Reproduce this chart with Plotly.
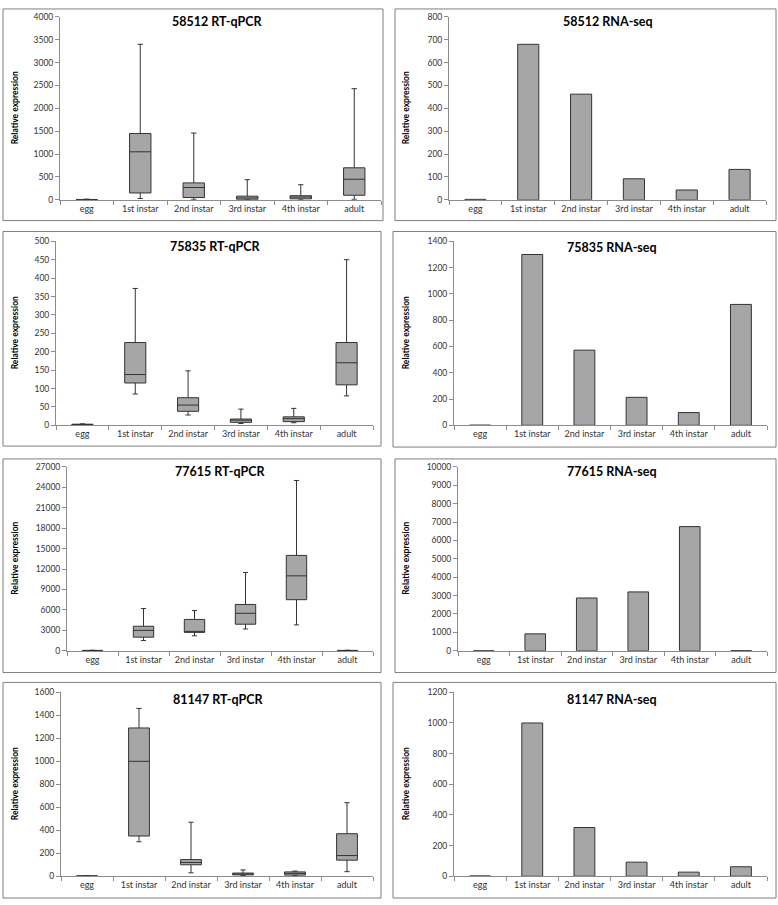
import plotly.graph_objects as go

W, H = 778, 905

stages = ["egg", "1st instar", "2nd instar", "3rd instar", "4th instar", "adult"]

# RT-qPCR box statistics (lower whisker, q1, median, q3, upper whisker)
g58512_low = [0, 30, 10, 0, 0, 10]
g58512_q1 = [2, 150, 50, 10, 20, 100]
g58512_med = [5, 1050, 270, 40, 60, 450]
g58512_q3 = [8, 1450, 370, 80, 90, 700]
g58512_high = [15, 3400, 1460, 440, 330, 2430]

g75835_low = [0, 85, 28, 5, 7, 80]
g75835_q1 = [1, 115, 38, 8, 10, 110]
g75835_med = [2, 138, 55, 14, 18, 170]
g75835_q3 = [3, 225, 75, 17, 23, 225]
g75835_high = [4, 372, 148, 44, 46, 450]

g77615_low = [0, 1500, 2200, 3200, 3800, 0]
g77615_q1 = [20, 2000, 2700, 3900, 7500, 20]
g77615_med = [40, 3000, 2800, 5500, 11000, 40]
g77615_q3 = [60, 3600, 4600, 6800, 14000, 60]
g77615_high = [80, 6200, 5900, 11500, 25000, 80]

g81147_low = [0, 300, 30, 5, 5, 40]
g81147_q1 = [1, 350, 100, 12, 10, 140]
g81147_med = [2, 1000, 120, 20, 25, 180]
g81147_q3 = [3, 1290, 145, 28, 38, 370]
g81147_high = [4, 1460, 470, 55, 45, 640]

# RNA-seq values
rna_58512 = [2, 680, 462, 92, 43, 133]
rna_75835 = [1, 1300, 572, 213, 97, 920]
rna_77615 = [5, 920, 2870, 3200, 6750, 10]
rna_81147 = [2, 1000, 318, 92, 27, 62]

qpcr_titles = ["58512 RT-qPCR", "75835 RT-qPCR", "77615 RT-qPCR", "81147 RT-qPCR"]
rna_titles = ["58512 RNA-seq", "75835 RNA-seq", "77615 RNA-seq", "81147 RNA-seq"]
qpcr_ymax = [4000, 500, 27000, 1600]
qpcr_dtick = [500, 50, 3000, 200]
rna_ymax = [800, 1400, 10000, 1200]
rna_dtick = [100, 200, 1000, 200]

qpcr_stats = [
    (g58512_low, g58512_q1, g58512_med, g58512_q3, g58512_high),
    (g75835_low, g75835_q1, g75835_med, g75835_q3, g75835_high),
    (g77615_low, g77615_q1, g77615_med, g77615_q3, g77615_high),
    (g81147_low, g81147_q1, g81147_med, g81147_q3, g81147_high),
]
rna_vals = [rna_58512, rna_75835, rna_77615, rna_81147]

# layout geometry in pixels: plot area (x0, x1, ytop, ybot), frame (x0, x1, y0, y1), title (cx, cy)
left_plot = [(60, 381, 12, 197), (56, 373, 239, 425), (67, 373, 467, 653), (61, 373, 695, 881)]
right_plot = [(449, 766, 12, 197), (454, 767, 239, 425), (458, 767, 467, 653), (454, 767, 695, 881)]
left_frame = [(3, 383, 4, 218), (3, 381, 229, 446), (3, 381, 459, 675), (3, 381, 685, 903)]
right_frame = [(395, 776, 4, 218), (393, 776, 229, 447), (395, 776, 459, 675), (393, 776, 685, 903)]
left_title = [(217, 17), (215, 244), (220, 472), (218, 702)]
right_title = [(608, 17), (612, 245), (612, 472), (612, 702)]

FONT = "Lato"
FILL = "#a6a6a6"
EDGE = "#333333"
AXC = "#8c8c8c"
TXT = "#333333"

fig = go.Figure()
layout = {}
shapes = []
annotations = []


def px_x(v):
    return v / W


def px_y(v):
    return 1 - v / H


def add_axes(idx, plot, ymax, dtick):
    x0, x1, yt, yb = plot
    sfx = "" if idx == 1 else str(idx)
    layout["xaxis" + sfx] = dict(
        domain=[px_x(x0), px_x(x1)], anchor="y" + sfx,
        type="category", categoryorder="array", categoryarray=stages,
        range=[-0.5, 5.5], showline=True, linecolor=AXC, linewidth=1,
        ticks="outside", tickson="boundaries", ticklen=4, tickcolor=AXC,
        showgrid=False, zeroline=False,
        tickfont=dict(family=FONT, size=9, color=TXT),
    )
    layout["yaxis" + sfx] = dict(
        domain=[px_y(yb), px_y(yt)], anchor="x" + sfx,
        range=[0, ymax], dtick=dtick, tick0=0, tickformat="d",
        showline=True, linecolor=AXC,
        linewidth=1, ticks="outside", ticklen=4, tickcolor=AXC,
        showgrid=False, zeroline=False,
        tickfont=dict(family=FONT, size=8.5, color=TXT),
    )


idx = 0
for r in range(4):
    # left: RT-qPCR box plot
    idx += 1
    sfx = "" if idx == 1 else str(idx)
    add_axes(idx, left_plot[r], qpcr_ymax[r], qpcr_dtick[r])
    lo, q1, med, q3, hi = qpcr_stats[r]
    fig.add_trace(go.Box(
        x=stages, q1=q1, median=med, q3=q3, lowerfence=lo, upperfence=hi,
        fillcolor=FILL, line=dict(color=EDGE, width=1), width=0.4,
        whiskerwidth=0.25, boxpoints=False, showlegend=False,
        xaxis="x" + sfx, yaxis="y" + sfx,
    ))
    # right: RNA-seq bar chart
    idx += 1
    add_axes(idx, right_plot[r], rna_ymax[r], rna_dtick[r])
    fig.add_trace(go.Bar(
        x=stages, y=rna_vals[r], width=0.4,
        marker=dict(color=FILL, line=dict(color=EDGE, width=1)),
        showlegend=False,
        xaxis=f"x{idx}", yaxis=f"y{idx}",
    ))

    for frame in (left_frame[r], right_frame[r]):
        fx0, fx1, fy0, fy1 = frame
        shapes.append(dict(type="rect", xref="paper", yref="paper",
                           x0=px_x(fx0), x1=px_x(fx1), y0=px_y(fy1), y1=px_y(fy0),
                           line=dict(color="#7f7f7f", width=1), fillcolor="rgba(0,0,0,0)"))
    for (tx, ty), txt in ((left_title[r], qpcr_titles[r]), (right_title[r], rna_titles[r])):
        annotations.append(dict(text=f"<b>{txt}</b>", xref="paper", yref="paper",
                                x=px_x(tx), y=px_y(ty), xanchor="center", yanchor="middle",
                                showarrow=False, font=dict(family=FONT, size=12.5, color="#000")))
    for plot, lx in ((left_plot[r], 15), (right_plot[r], 406)):
        cy = (plot[2] + plot[3]) / 2
        annotations.append(dict(text="<b>Relative expression</b>", xref="paper", yref="paper",
                                x=px_x(lx), y=px_y(cy), xanchor="center", yanchor="middle",
                                textangle=-90, showarrow=False,
                                font=dict(family=FONT, size=8.5, color="#000")))

fig.update_layout(
    width=W, height=H, margin=dict(l=0, r=0, t=0, b=0),
    paper_bgcolor="white", plot_bgcolor="white",
    shapes=shapes, annotations=annotations, showlegend=False,
    **layout,
)

fig.write_html("out.html", config={"displayModeBar": False},
               post_script="document.body.style.margin='0px';")
